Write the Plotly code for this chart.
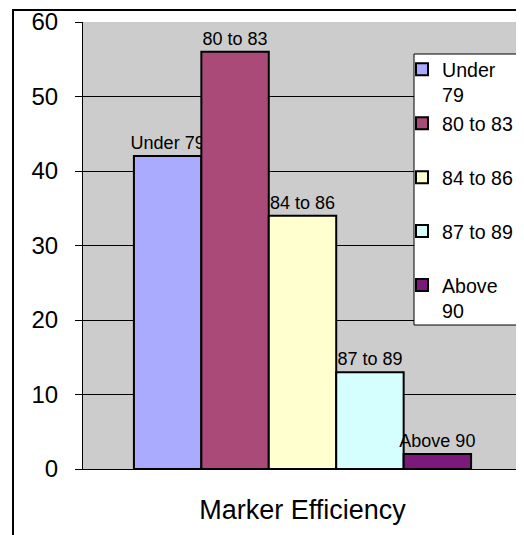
import plotly.graph_objects as go

category = ["Marker Efficiency"]
series_names = ["Under 79", "80 to 83", "84 to 86", "87 to 89", "Above 90"]
legend_labels = ["Under<br>79", "80 to 83<br> ", "84 to 86<br> ", "87 to 89<br> ", "Above<br>90"]
values = [42, 56, 34, 13, 2]
colors = ["#AAAAFF", "#A94A78", "#FFFFD0", "#D5FFFF", "#7B1A7B"]
y_ticks = [0, 10, 20, 30, 40, 50, 60]

FONT = "Arial, Liberation Sans, sans-serif"

# reference page pixels converted to paper fractions of the plot area
PL, PT, PW, PH = 83, 22, 439, 447


def px(x):
    return (x - PL) / PW


def py(y):
    return (PT + PH - y) / PH


fig = go.Figure()
for name, lab, v, c in zip(series_names, legend_labels, values, colors):
    fig.add_trace(go.Bar(
        x=category, y=[v], name=lab,
        marker=dict(color=c, line=dict(color="black", width=2)),
        text=[name], textposition="outside", constraintext="none",
        textfont=dict(family=FONT, size=18, color="black"),
        cliponaxis=False,
    ))

fig.update_layout(
    width=516, height=527,
    margin=dict(l=75, r=2, t=14, b=66),
    paper_bgcolor="white",
    plot_bgcolor="#CCCCCC",
    barmode="group", bargap=0.232, bargroupgap=0,
    font=dict(family=FONT, color="black"),
    showlegend=True,
    legend=dict(
        x=px(402), y=py(50), xanchor="left", yanchor="top",
        bgcolor="rgba(0,0,0,0)", borderwidth=0,
        font=dict(family=FONT, size=19.6, color="black"),
        valign="top", itemwidth=30,
    ),
    xaxis=dict(
        showgrid=False, showline=True, linecolor="black", linewidth=1,
        ticks="", tickfont=dict(family=FONT, size=27, color="black"),
        ticklabelstandoff=17, automargin=False,
    ),
    yaxis=dict(
        range=[0, 60], tickvals=y_ticks,
        showgrid=True, gridcolor="black", gridwidth=1,
        showline=True, linecolor="black", linewidth=1,
        ticks="outside", ticklen=7, tickcolor="black",
        tickfont=dict(family=FONT, size=24, color="black"),
        ticklabelstandoff=12, zeroline=False, automargin=False,
    ),
    shapes=[
        dict(
            type="rect", xref="paper", yref="paper",
            x0=px(13), x1=px(540), y0=py(550), y1=py(10),
            line=dict(color="black", width=2), fillcolor="rgba(0,0,0,0)", layer="below",
        ),
        dict(
            type="rect", xref="paper", yref="paper",
            x0=px(414), x1=px(520), y0=py(325), y1=py(54),
            line=dict(color="black", width=1), fillcolor="white", layer="above",
        ),
    ],
)

fig.write_html("out.html")
